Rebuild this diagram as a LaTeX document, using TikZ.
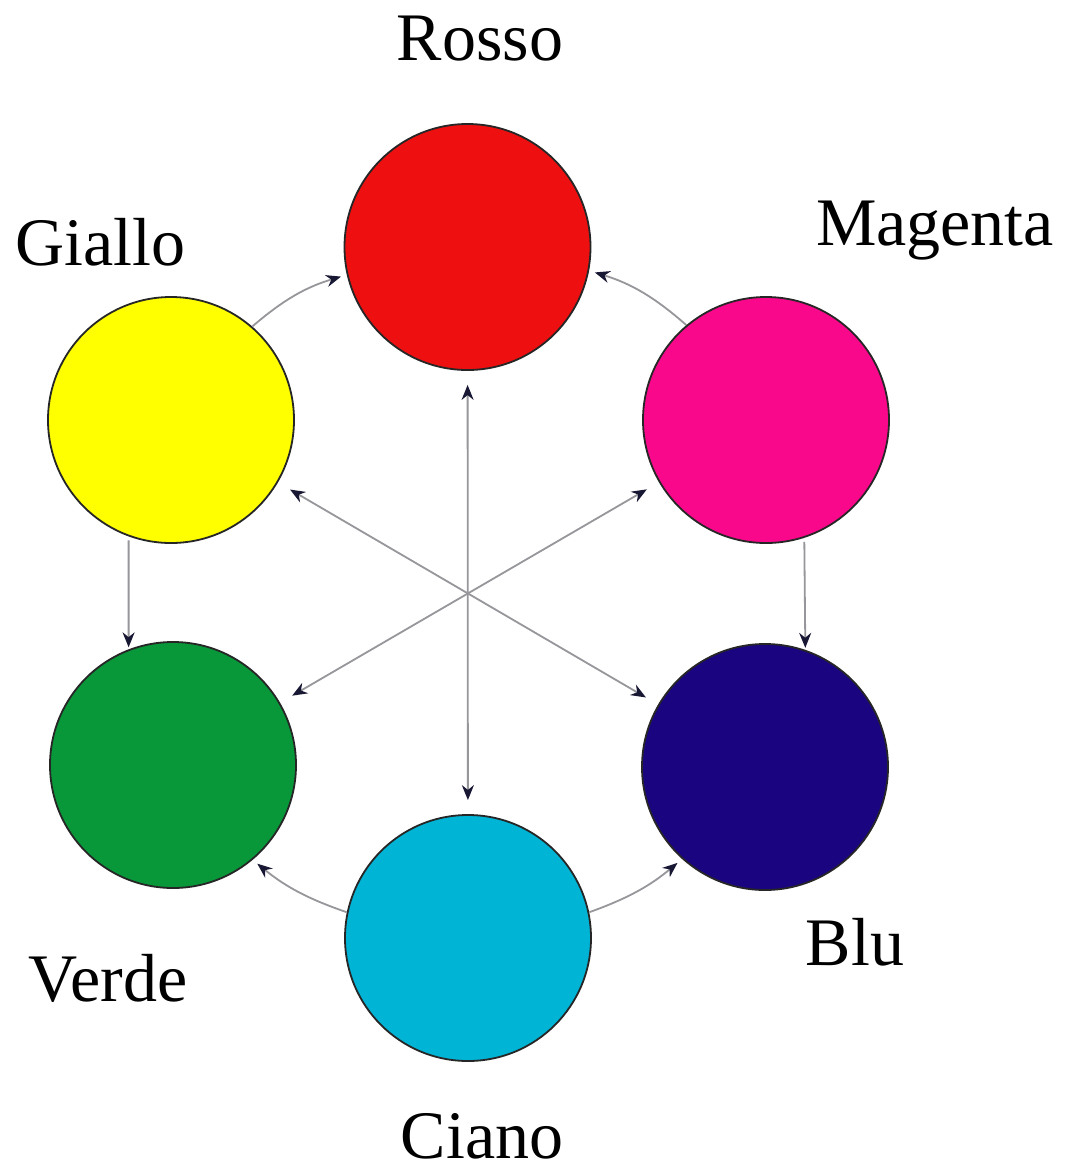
\documentclass[tikz,border=0pt]{standalone}
\usepackage{fontspec}
\setmainfont{Liberation Serif}
\usetikzlibrary{arrows.meta}
\definecolor{cRosso}{RGB}{238,16,16}
\definecolor{cMagenta}{RGB}{250,8,140}
\definecolor{cGiallo}{RGB}{255,255,0}
\definecolor{cVerde}{RGB}{8,152,58}
\definecolor{cBlu}{RGB}{26,4,128}
\definecolor{cCiano}{RGB}{0,180,214}
\definecolor{tipcol}{RGB}{24,24,52}
\definecolor{linecol}{RGB}{150,150,155}
\tikzset{
  disc/.style={circle, draw=black!85, line width=1.8pt, minimum size=246pt, inner sep=0pt},
  lbl/.style={anchor=base, font=\fontsize{68}{80}\selectfont, inner sep=0pt},
  conn/.style={draw=linecol, line width=1.8pt, -{Stealth[length=15pt,width=12pt,color=tipcol]}},
  dconn/.style={draw=linecol, line width=1.8pt, {Stealth[length=15pt,width=12pt,color=tipcol]}-{Stealth[length=15pt,width=12pt,color=tipcol]}, shorten >=14pt, shorten <=14pt}
}
\begin{document}
\begin{tikzpicture}[x=1pt,y=-1pt]
\useasboundingbox[fill=white] (0,0) rectangle (1081,1176);
\node[disc, fill=cRosso] (R) at (467.5,247) {};
\node[disc, fill=cMagenta] (M) at (766,420) {};
\node[disc, fill=cGiallo] (G) at (171,420) {};
\node[disc, fill=cVerde] (V) at (173,765) {};
\node[disc, fill=cBlu] (B) at (765,767) {};
\node[disc, fill=cCiano] (C) at (468,938) {};

\node[lbl] (lR) at (480,60) {Rosso};
\node[lbl] (lG) at (100,265) {Giallo};
\node[lbl] (lM) at (935,245) {Magenta};
\node[lbl] (lV) at (108,1001) {Verde};
\node[lbl] (lB) at (855,965) {Blu};
\node[lbl] (lC) at (482,1158) {Ciano};

\draw[dconn] (R) -- (C);
\draw[dconn] (G) -- (B);
\draw[dconn] (M) -- (V);

\draw[conn, shorten >=6pt] (G.49) to[bend left=12] (R.193);
\draw[conn, shorten >=6pt] (M.130) to[bend right=12] (R.-11);
\draw[conn, shorten >=2pt, shorten <=4pt] (G.250) -- (V.111);
\draw[conn, shorten >=2pt, shorten <=4pt] (M.-72) -- (B.71);
\draw[conn, shorten >=6pt] (C.168) to[bend left=10] (V.-50);
\draw[conn, shorten >=6pt] (C.12) to[bend right=10] (B.228);
\end{tikzpicture}
\end{document}
